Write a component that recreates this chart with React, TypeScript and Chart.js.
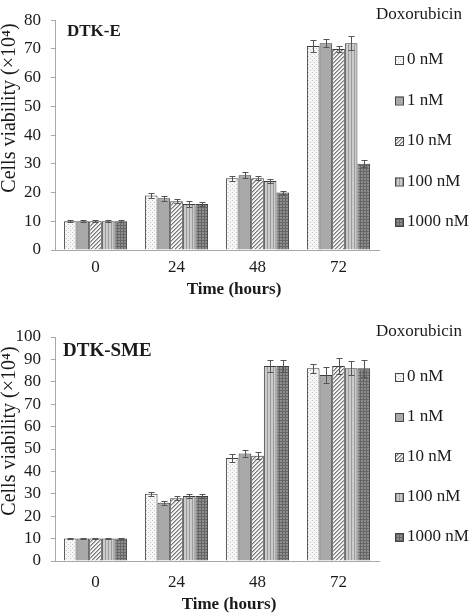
import React, { useEffect, useRef } from "react";
import { Chart, registerables } from "chart.js";

Chart.register(...registerables);

// ---------- data ----------
const timeLabels = ["0", "24", "48", "72"];
const doseLabels = ["0 nM", "1 nM", "10 nM", "100 nM", "1000 nM"];
const legendTitle = "Doxorubicin";
const xTitle = "Time (hours)";
const yTitle = "Cells viability (×10⁴)";

// DTK-E panel
const dtkE_0nM = [10, 19, 25, 71];
const dtkE_1nM = [10, 18, 26, 72];
const dtkE_10nM = [10, 17, 25, 70];
const dtkE_100nM = [10, 16, 24, 72];
const dtkE_1000nM = [10, 16, 20, 30];
const dtkE_err_0nM = [0.3, 0.9, 0.9, 2.0];
const dtkE_err_1nM = [0.3, 0.8, 1.0, 1.5];
const dtkE_err_10nM = [0.3, 0.7, 0.7, 1.0];
const dtkE_err_100nM = [0.3, 0.9, 0.8, 2.5];
const dtkE_err_1000nM = [0.4, 0.8, 0.4, 1.2];

// DTK-SME panel
const dtkSME_0nM = [10, 30, 46, 86];
const dtkSME_1nM = [10, 26, 48, 83];
const dtkSME_10nM = [10, 28, 47, 87];
const dtkSME_100nM = [10, 29, 87, 86];
const dtkSME_1000nM = [10, 29, 87, 86];
const dtkSME_err_0nM = [0.3, 1.0, 1.7, 2.0];
const dtkSME_err_1nM = [0.3, 0.8, 1.6, 3.7];
const dtkSME_err_10nM = [0.3, 0.8, 1.5, 3.6];
const dtkSME_err_100nM = [0.3, 1.0, 2.6, 3.1];
const dtkSME_err_1000nM = [0.3, 1.0, 2.6, 3.7];

const SERIF = "'Liberation Serif', 'Times New Roman', serif";
const TEXT = "#1a1a1a";
const AXIS = "#a8a8a8";

// ---------- patterns ----------
function makePattern(kind: number): CanvasPattern | string {
  const c = document.createElement("canvas");
  const ctx = c.getContext("2d")!;
  if (kind === 0) {
    c.width = 4; c.height = 4;
    ctx.fillStyle = "#f6f6f6"; ctx.fillRect(0, 0, 4, 4);
    ctx.fillStyle = "#c4c4c4"; ctx.fillRect(0, 0, 1, 1); ctx.fillRect(2, 2, 1, 1);
  } else if (kind === 1) {
    return "#a9a9a9";
  } else if (kind === 2) {
    c.width = 4; c.height = 4;
    ctx.fillStyle = "#f4f4f4"; ctx.fillRect(0, 0, 4, 4);
    ctx.fillStyle = "#7a7a7a";
    ctx.fillRect(3, 0, 1, 1); ctx.fillRect(2, 1, 1, 1); ctx.fillRect(1, 2, 1, 1); ctx.fillRect(0, 3, 1, 1);
    ctx.fillStyle = "#b0b0b0";
    ctx.fillRect(0, 0, 1, 1); ctx.fillRect(3, 1, 1, 1); ctx.fillRect(2, 2, 1, 1); ctx.fillRect(1, 3, 1, 1);
  } else if (kind === 3) {
    c.width = 3; c.height = 3;
    ctx.fillStyle = "#cbcbcb"; ctx.fillRect(0, 0, 3, 3);
    ctx.fillStyle = "#9c9c9c"; ctx.fillRect(0, 0, 1, 3);
  } else {
    c.width = 3; c.height = 3;
    ctx.fillStyle = "#8e8e8e"; ctx.fillRect(0, 0, 3, 3);
    ctx.fillStyle = "#666666"; ctx.fillRect(0, 0, 1, 3); ctx.fillRect(0, 0, 3, 1);
  }
  const p = ctx.createPattern(c, "repeat");
  return p || "#999";
}

interface PanelProps {
  label: string;
  series: number[][];
  errors: number[][];
  yMax: number;
  height: number;
  areaTop: number;
  areaBottom: number;
  labelPos: [number, number];
  xTitlePos: [number, number];
  yTitleCenter: number;
  tickPad: number;
  legendTitleY: number;
  legendStartY: number;
  legendStep: number;
  labelFont: number;
}

const W = 472;
const AREA_LEFT = 55;
const AREA_RIGHT = 379;

function Panel(props: PanelProps) {
  const ref = useRef<HTMLCanvasElement>(null);
  useEffect(() => {
    const canvas = ref.current!;
    const patterns = [0, 1, 2, 3, 4].map(makePattern);

    const overlay = {
      id: "overlay",
      afterDatasetsDraw(chart: any) {
        const ctx = chart.ctx;
        const yScale = chart.scales.y;
        // error bars
        ctx.save();
        ctx.strokeStyle = "#555";
        ctx.lineWidth = 1;
        chart.data.datasets.forEach((ds: any, i: number) => {
          const meta = chart.getDatasetMeta(i);
          meta.data.forEach((bar: any, j: number) => {
            const v = ds.data[j];
            const e = props.errors[i][j];
            const x = Math.round(bar.x) + 0.5;
            const yt = Math.round(yScale.getPixelForValue(v + e)) + 0.5;
            const yb = Math.round(yScale.getPixelForValue(v - e)) + 0.5;
            ctx.beginPath();
            ctx.moveTo(x, yt); ctx.lineTo(x, yb);
            ctx.moveTo(x - 3, yt); ctx.lineTo(x + 3, yt);
            ctx.moveTo(x - 3, yb); ctx.lineTo(x + 3, yb);
            ctx.stroke();
          });
        });
        ctx.restore();
      },
      afterDraw(chart: any) {
        const ctx = chart.ctx;
        ctx.save();
        ctx.fillStyle = TEXT;
        // panel label
        ctx.font = `bold ${props.labelFont}px ${SERIF}`;
        ctx.textAlign = "left";
        ctx.textBaseline = "middle";
        ctx.fillText(props.label, props.labelPos[0], props.labelPos[1]);
        // x title
        ctx.font = `bold 17px ${SERIF}`;
        ctx.textAlign = "center";
        ctx.fillText(xTitle, props.xTitlePos[0], props.xTitlePos[1]);
        // y title
        ctx.save();
        ctx.translate(10, props.yTitleCenter);
        ctx.rotate(-Math.PI / 2);
        ctx.font = `20px ${SERIF}`;
        ctx.textAlign = "center";
        ctx.textBaseline = "middle";
        ctx.fillText(yTitle, 0, 0);
        ctx.restore();
        // legend
        ctx.font = `17px ${SERIF}`;
        ctx.textAlign = "left";
        ctx.textBaseline = "middle";
        ctx.fillText(legendTitle, 376, props.legendTitleY);
        chart.data.datasets.forEach((ds: any, i: number) => {
          const y = props.legendStartY + i * props.legendStep;
          ctx.fillStyle = ds.backgroundColor;
          ctx.fillRect(395, y - 4, 8, 8);
          ctx.strokeStyle = "#444";
          ctx.lineWidth = 1;
          ctx.strokeRect(395.5, y - 3.5, 8, 8);
          ctx.fillStyle = TEXT;
          ctx.fillText(ds.label, 407, y);
        });
        ctx.restore();
      },
    };

    const chart = new Chart(canvas, {
      type: "bar",
      data: {
        labels: timeLabels,
        datasets: props.series.map((s, i) => ({
          label: doseLabels[i],
          data: s,
          backgroundColor: patterns[i] as any,
          borderColor: "#3c3c3c",
          borderWidth: 1,
          barPercentage: 1,
          categoryPercentage: 0.78,
        })),
      },
      options: {
        animation: false,
        responsive: false,
        maintainAspectRatio: false,
        events: [],
        layout: {
          padding: { left: 0, right: W - AREA_RIGHT, top: props.areaTop, bottom: 0 },
        },
        plugins: {
          legend: { display: false },
          tooltip: { enabled: false },
          title: { display: false },
        },
        scales: {
          x: {
            grid: { display: false, drawTicks: false, tickLength: 0 },
            border: { display: true, color: AXIS, width: 1 },
            ticks: {
              color: TEXT,
              padding: props.tickPad,
              font: { family: SERIF, size: 17 },
            },
            afterFit: (scale: any) => {
              scale.height = props.height - props.areaBottom;
            },
          },
          y: {
            min: 0,
            max: props.yMax,
            grid: {
              display: true,
              drawOnChartArea: false,
              drawTicks: true,
              tickLength: 4,
              color: AXIS,
            },
            border: { display: true, color: AXIS, width: 1 },
            ticks: {
              stepSize: 10,
              autoSkip: false,
              color: TEXT,
              padding: 10,
              font: { family: SERIF, size: 17 },
            },
            afterFit: (scale: any) => {
              scale.width = AREA_LEFT;
            },
          },
        },
      },
      plugins: [overlay],
    });
    return () => chart.destroy();
  }, []);
  return (
    <canvas
      ref={ref}
      width={W}
      height={props.height}
      style={{ display: "block", width: W, height: props.height }}
    />
  );
}

export default function App() {
  return (
    <div style={{ position: "absolute", left: 0, top: 0, width: 472, height: 615, background: "#fff" }}>
      <Panel
        label="DTK-E"
        series={[dtkE_0nM, dtkE_1nM, dtkE_10nM, dtkE_100nM, dtkE_1000nM]}
        errors={[dtkE_err_0nM, dtkE_err_1nM, dtkE_err_10nM, dtkE_err_100nM, dtkE_err_1000nM]}
        yMax={80}
        height={300}
        areaTop={16}
        areaBottom={250}
        labelPos={[67, 32]}
        xTitlePos={[234, 290]}
        yTitleCenter={108}
        tickPad={7}
        legendTitleY={15}
        legendStartY={60}
        legendStep={40.5}
        labelFont={17}
      />
      <Panel
        label="DTK-SME"
        series={[dtkSME_0nM, dtkSME_1nM, dtkSME_10nM, dtkSME_100nM, dtkSME_1000nM]}
        errors={[dtkSME_err_0nM, dtkSME_err_1nM, dtkSME_err_10nM, dtkSME_err_100nM, dtkSME_err_1000nM]}
        yMax={100}
        height={315}
        areaTop={37}
        areaBottom={261}
        labelPos={[63, 51]}
        xTitlePos={[229, 305]}
        yTitleCenter={131}
        tickPad={11}
        legendTitleY={32}
        legendStartY={77}
        legendStep={40}
        labelFont={19}
      />
    </div>
  );
}
